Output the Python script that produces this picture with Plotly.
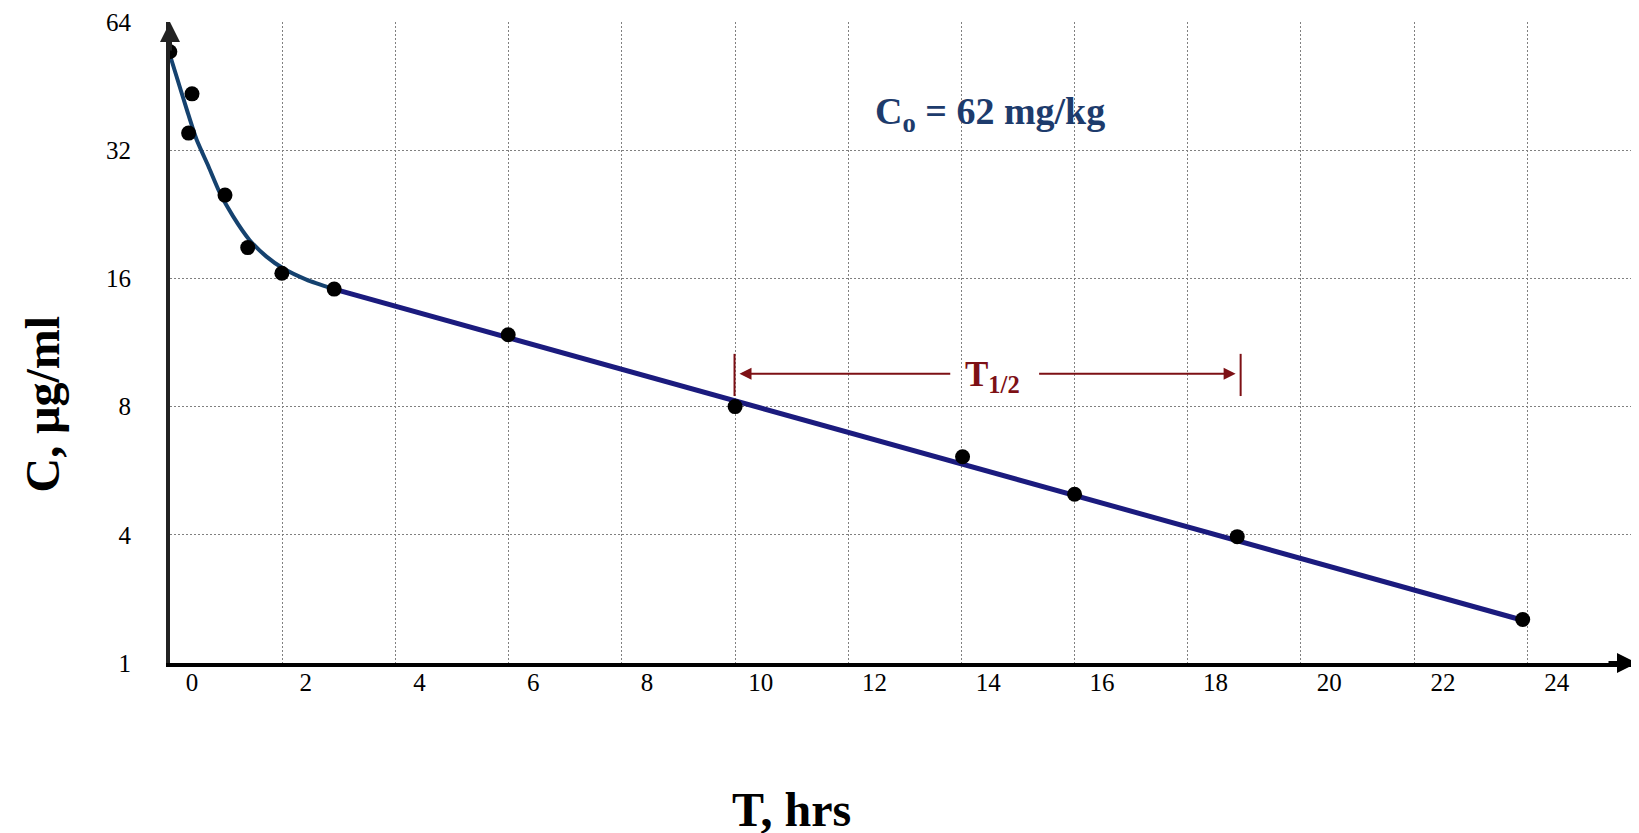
import math
import plotly.graph_objects as go

# ---------------- data ----------------
T_OBS = [-0.39, 0.0, -0.06, 0.58, 0.98, 1.58, 2.50, 5.56, 9.55, 13.55, 15.52, 18.38, 23.40]
C_OBS = [54.5, 43.4, 35.1, 25.1, 18.9, 16.45, 15.1, 11.8, 8.0, 6.1, 4.98, 3.96, 2.53]

# distribution-phase curve
CURVE_T = [-0.39, -0.27, -0.09, 0.08, 0.29, 0.49, 0.72, 1.01, 1.31, 1.60, 2.01, 2.50]
CURVE_C = [53.6, 47.6, 39.8, 33.9, 29.3, 25.4, 22.4, 19.7, 18.0, 16.9, 15.9, 15.1]

# elimination-phase straight line
LINE_T = [2.50, 23.40]
LINE_C = [15.1, 2.52]

# axis ticks
X_TICKS = [0, 2, 4, 6, 8, 10, 12, 14, 16, 18, 20, 22, 24]
X_GRID = [1.59, 3.58, 5.57, 7.56, 9.55, 11.54, 13.53, 15.52, 17.51, 19.50, 21.49, 23.48]
Y_TICKS = [64, 32, 16, 8, 4, 2]
Y_TICKTEXT = ["64", "32", "16", "8", "4", "1"]

# half-life marker
HALF_START = 9.54
HALF_END = 18.44
HALF_LEVEL = 9.55
HALF_BAR_LO = 8.47
HALF_BAR_HI = 10.64

X_RANGE = [-0.387, 25.41]
Y_RANGE = [2, 64]

SERIF = "Liberation Serif, Times New Roman, serif"
RED = "#7d1015"
NAVY_TEXT = "#1d3b6c"

fig = go.Figure()

fig.add_trace(go.Scatter(x=CURVE_T, y=CURVE_C, mode="lines",
                         line=dict(color="#15426f", width=4, shape="spline", smoothing=0.6),
                         hoverinfo="skip"))
fig.add_trace(go.Scatter(x=LINE_T, y=LINE_C, mode="lines",
                         line=dict(color="#1b1b7e", width=5),
                         hoverinfo="skip"))
fig.add_trace(go.Scatter(x=T_OBS, y=C_OBS, mode="markers",
                         marker=dict(color="black", size=15)))

# half-life end bars (drawn on the labelled x axis, same scale)
for xb in (HALF_START, HALF_END):
    fig.add_trace(go.Scatter(x=[xb, xb], y=[HALF_BAR_LO, HALF_BAR_HI], mode="lines",
                             xaxis="x2", yaxis="y",
                             line=dict(color=RED, width=2), hoverinfo="skip"))

ly = math.log10(HALF_LEVEL)
mid = 14.07
fig.add_annotation(x=HALF_START, y=ly, ax=mid - 0.71, ay=ly, xref="x", yref="y",
                   axref="x", ayref="y", showarrow=True, arrowhead=2, arrowsize=1.2,
                   arrowwidth=2, arrowcolor=RED, standoff=5, text="")
fig.add_annotation(x=HALF_END, y=ly, ax=mid + 0.80, ay=ly, xref="x", yref="y",
                   axref="x", ayref="y", showarrow=True, arrowhead=2, arrowsize=1.2,
                   arrowwidth=2, arrowcolor=RED, standoff=5, text="")
fig.add_annotation(x=mid, y=ly, xref="x", yref="y", showarrow=False,
                   xanchor="center", yanchor="middle",
                   text="<b>T<sub>1/2</sub></b>", yshift=-3,
                   font=dict(family=SERIF, size=35, color=RED))

# C0 text
fig.add_annotation(x=14.03, y=0.856, xref="x", yref="paper", showarrow=False,
                   xanchor="center", yanchor="middle",
                   text="<b>C<sub>o</sub> = 62 mg/kg</b>",
                   font=dict(family=SERIF, size=38, color=NAVY_TEXT))

# axis titles
fig.add_annotation(x=-0.087, y=0.404, xref="paper", yref="paper", showarrow=False,
                   xanchor="center", yanchor="middle",
                   text="<b>C, μg/ml</b>", textangle=-90,
                   font=dict(family=SERIF, size=48, color="black"))
fig.add_annotation(x=0.4237, y=-0.228, xref="paper", yref="paper", showarrow=False,
                   xanchor="center", yanchor="middle",
                   text="<b>T, hrs</b>",
                   font=dict(family=SERIF, size=48, color="black"))

# axis arrowheads
fig.add_annotation(x=0, y=1, xref="paper", yref="paper", ax=0, ay=30,
                   showarrow=True, arrowhead=2, arrowsize=1, arrowwidth=4,
                   arrowcolor="#222", text="")
fig.add_annotation(x=1, y=0, xref="paper", yref="paper", ax=-30, ay=0,
                   showarrow=True, arrowhead=2, arrowsize=1, arrowwidth=4,
                   arrowcolor="black", text="")

# the page body adds an 8px offset; margins compensate so the plot area
# lands at x 170..1637, y 22..663 in the window
fig.update_layout(
    width=1639, height=833,
    margin=dict(l=162, r=10, t=14, b=178, autoexpand=False),
    paper_bgcolor="white", plot_bgcolor="white",
    showlegend=False,
    xaxis=dict(range=X_RANGE, tickvals=X_GRID, showticklabels=False,
               showgrid=True, gridcolor="#808080", gridwidth=1, griddash="2px,2px",
               showline=True, linecolor="black", linewidth=4, zeroline=False,
               ticks="", automargin=False),
    xaxis2=dict(range=X_RANGE, overlaying="x", anchor="y", side="bottom",
                tickvals=X_TICKS, ticktext=[str(v) for v in X_TICKS],
                showgrid=False, showline=False, zeroline=False, ticks="",
                ticklabelstandoff=2, automargin=False,
                tickfont=dict(family=SERIF, size=25, color="black")),
    yaxis=dict(type="log", range=[math.log10(Y_RANGE[0]), math.log10(Y_RANGE[1])],
               tickvals=Y_TICKS, ticktext=Y_TICKTEXT,
               showgrid=True, gridcolor="#808080", gridwidth=1, griddash="2px,2px",
               showline=True, linecolor="#222", linewidth=4, zeroline=False,
               ticks="", ticklabelstandoff=30, automargin=False,
               tickfont=dict(family=SERIF, size=25, color="black")),
)

fig.write_html("out.html")
